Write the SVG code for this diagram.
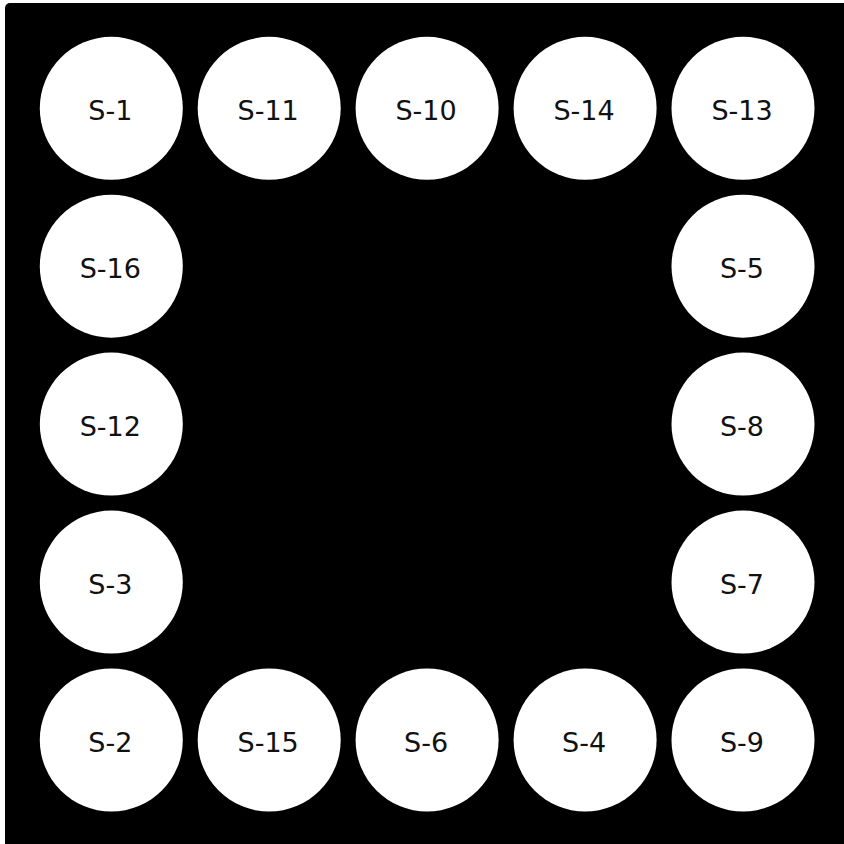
<svg xmlns="http://www.w3.org/2000/svg" width="844" height="844" viewBox="0 0 844 844">
<style>
.bg{fill:#000}
.node circle{fill:#fff}
.node text{font-family:"DejaVu Sans",sans-serif;font-size:27px;fill:#111;text-anchor:middle}
</style>
<rect x="0" y="0" width="844" height="844" fill="#fff"/>
<rect class="bg" x="5" y="3" width="860" height="860" rx="5"/>
<g id="connectors"></g>
<g id="S-1" class="node"><circle cx="111.3" cy="108.3" r="71.5"/><text x="110.3" y="120">S-1</text></g>
<g id="S-11" class="node"><circle cx="269.2" cy="108.3" r="71.5"/><text x="268.2" y="120">S-11</text></g>
<g id="S-10" class="node"><circle cx="427.1" cy="108.3" r="71.5"/><text x="426.1" y="120">S-10</text></g>
<g id="S-14" class="node"><circle cx="585.1" cy="108.3" r="71.5"/><text x="584.1" y="120">S-14</text></g>
<g id="S-13" class="node"><circle cx="743" cy="108.3" r="71.5"/><text x="742" y="120">S-13</text></g>
<g id="S-16" class="node"><circle cx="111.3" cy="266.2" r="71.5"/><text x="110.3" y="278">S-16</text></g>
<g id="S-5" class="node"><circle cx="743" cy="266.2" r="71.5"/><text x="742" y="278">S-5</text></g>
<g id="S-12" class="node"><circle cx="111.3" cy="424.1" r="71.5"/><text x="110.3" y="436">S-12</text></g>
<g id="S-8" class="node"><circle cx="743" cy="424.1" r="71.5"/><text x="742" y="436">S-8</text></g>
<g id="S-3" class="node"><circle cx="111.3" cy="582.1" r="71.5"/><text x="110.3" y="594">S-3</text></g>
<g id="S-7" class="node"><circle cx="743" cy="582.1" r="71.5"/><text x="742" y="594">S-7</text></g>
<g id="S-2" class="node"><circle cx="111.3" cy="740" r="71.5"/><text x="110.3" y="752">S-2</text></g>
<g id="S-15" class="node"><circle cx="269.2" cy="740" r="71.5"/><text x="268.2" y="752">S-15</text></g>
<g id="S-6" class="node"><circle cx="427.1" cy="740" r="71.5"/><text x="426.1" y="752">S-6</text></g>
<g id="S-4" class="node"><circle cx="585.1" cy="740" r="71.5"/><text x="584.1" y="752">S-4</text></g>
<g id="S-9" class="node"><circle cx="743" cy="740" r="71.5"/><text x="742" y="752">S-9</text></g>
</svg>
